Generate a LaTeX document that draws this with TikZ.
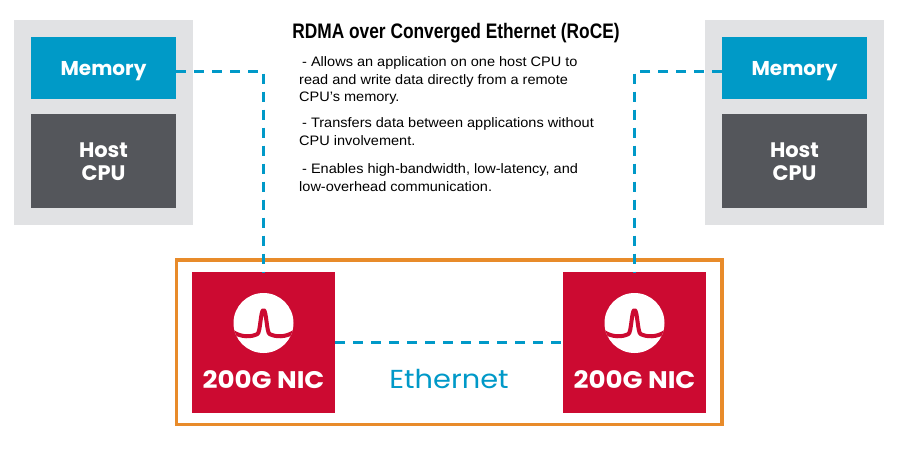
\documentclass[tikz,border=0pt]{standalone}
\usepackage{fontspec}
\setmainfont{Liberation Sans}
\newfontfamily\gothamfont{Poppins}
\newfontfamily\gothamwide[FakeStretch=1.09]{Poppins}
\newfontfamily\gothamwider[FakeStretch=1.11]{Poppins}
\newfontfamily\narrowfont[FakeStretch=0.825]{Liberation Sans}
\newfontfamily\bodyfont[FakeStretch=1.06]{Liberation Sans}
\definecolor{panelgray}{HTML}{E1E2E4}
\definecolor{memblue}{HTML}{009AC7}
\definecolor{cpugray}{HTML}{54565B}
\definecolor{nicred}{HTML}{CC0A31}
\definecolor{frameorange}{HTML}{E88B2A}
\definecolor{linkblue}{HTML}{0099C8}
\begin{document}
\begin{tikzpicture}[x=1pt,y=-1pt,
  box/.style={inner sep=0pt,outer sep=0pt,anchor=north west,draw=none},
  panel/.style={box,fill=panelgray,minimum width=179pt,minimum height=205pt},
  membox/.style={box,fill=memblue,minimum width=145pt,minimum height=62pt},
  cpubox/.style={box,fill=cpugray,minimum width=145pt,minimum height=94pt},
  nicbox/.style={box,fill=nicred,minimum width=143pt,minimum height=141pt},
  boxlabel/.style={inner sep=0pt,anchor=base,text=white,font=\gothamfont\bfseries\fontsize{20}{24}\selectfont},
  hostlabel/.style={boxlabel,font=\gothamfont\bfseries\fontsize{21}{24}\selectfont},
  niclabel/.style={inner sep=0pt,anchor=base,text=white,font=\gothamwide\bfseries\fontsize{24}{28}\selectfont},
  link/.style={draw=linkblue,line width=3pt,dash pattern=on 10pt off 8pt},
  bodytext/.style={inner sep=0pt,anchor=base west,font=\bodyfont\fontsize{13.7}{16}\selectfont}
]
\useasboundingbox (0,0) rectangle (903,463);
\fill[white] (0,0) rectangle (903,463);

% host panels
\node[panel] (panelL) at (14,20) {};
\node[membox] (memL) at (31,37) {};
\node[cpubox] (cpuL) at (31,114) {};
\node[panel] (panelR) at (705,20) {};
\node[membox] (memR) at (722,37) {};
\node[cpubox] (cpuR) at (722,114) {};

\node[boxlabel] (memLtxt) at (103.5,75) {Memory};
\node[boxlabel] (memRtxt) at (794.5,75) {Memory};
\node[hostlabel] (hostL) at (103.5,157) {Host};
\node[hostlabel] (cpuLtxt) at (103.5,180.5) {CPU};
\node[hostlabel] (hostR) at (794.5,157) {Host};
\node[hostlabel] (cpuRtxt) at (794.5,180.5) {CPU};

% network frame
\draw[frameorange,line width=3.5pt] (176.5,260) rectangle (722,424.7);

% NICs
\node[nicbox] (nicL) at (192,272) {};
\node[nicbox] (nicR) at (563,272) {};

\foreach \cx/\nm in {263.5/L,634.5/R}{
  \fill[white] (\cx,323) circle (30pt);
  \begin{scope}
    \clip (\cx,323) circle (30pt);
    \draw[nicred,line width=4pt,line join=round,line cap=round]
      (\cx-32,331) .. controls (\cx-22,338) and (\cx-12,337) .. (\cx-6,334)
      .. controls (\cx-3,332) and (\cx-3,310) .. (\cx,310)
      .. controls (\cx+3,310) and (\cx+3,332) .. (\cx+6,334)
      .. controls (\cx+12,337) and (\cx+22,338) .. (\cx+32,331);
  \end{scope}
}
\node[niclabel] (nicLtxt) at (263.5,388.3) {200G NIC};
\node[niclabel] (nicRtxt) at (634.5,388.3) {200G NIC};
\node[inner sep=0pt,anchor=base,text=linkblue,font=\gothamwider\fontsize{26}{30}\selectfont] (eth) at (449,388.3) {Ethernet};

% connectors
\coordinate (cornerL) at (263.5,71);
\coordinate (cornerR) at (634.5,71);
\draw[link] (memL.east |- 0,71) -- (cornerL) -- (nicL.north);
\draw[link] (memR.west |- 0,71) -- (cornerR) -- (nicR.north);
\draw[link] (nicL.east) -- (nicR.west);

% text
\node[inner sep=0pt,anchor=base,font=\narrowfont\bfseries\fontsize{21}{24}\selectfont] (title) at (456,38.5) {RDMA over Converged Ethernet (RoCE)};
\node[bodytext] (p1a) at (302,66.5) {- Allows an application on one host CPU to};
\node[bodytext] (p1b) at (299,84) {read and write data directly from a remote};
\node[bodytext] (p1c) at (299,101.7) {CPU’s memory.};
\node[bodytext] (p2a) at (302,127.5) {- Transfers data between applications without};
\node[bodytext] (p2b) at (299,145) {CPU involvement.};
\node[bodytext] (p3a) at (302,173.5) {- Enables high-bandwidth, low-latency, and};
\node[bodytext] (p3b) at (299,191) {low-overhead communication.};
\end{tikzpicture}
\end{document}
